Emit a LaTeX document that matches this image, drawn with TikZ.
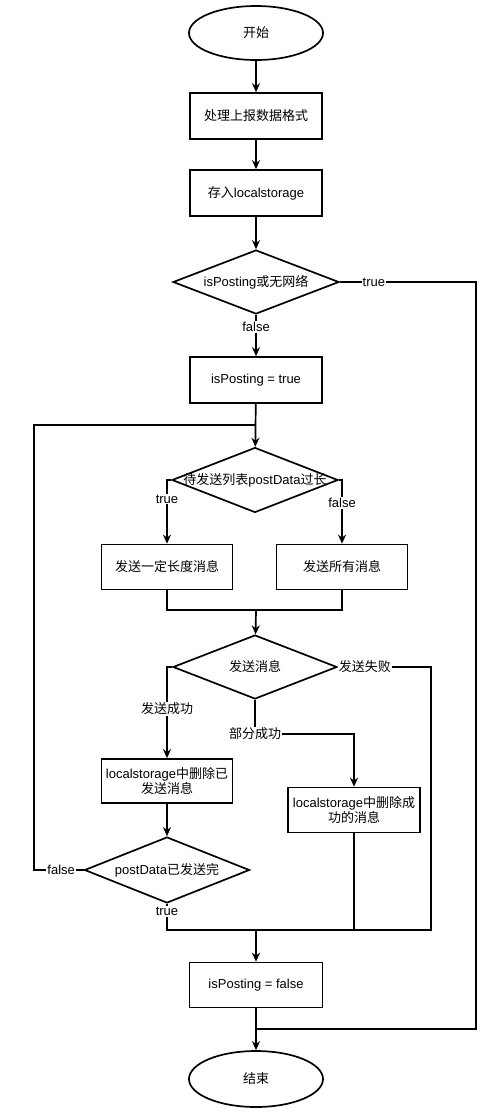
\documentclass[tikz,border=0pt]{standalone}
\usepackage{fontspec}
\setmainfont{Liberation Sans}
\newfontfamily\cjk{Noto Sans CJK SC}
\usetikzlibrary{shapes.geometric,arrows.meta}
\begin{document}
\begin{tikzpicture}[x=1pt,y=-1pt, font=\fontsize{13}{15}\selectfont, line width=1.7pt,
  box/.style={draw, rectangle, minimum width=132pt, minimum height=46pt, inner sep=1pt, align=center},
  term/.style={draw, ellipse, minimum width=134pt, minimum height=54pt},
  dia/.style={draw, diamond, inner sep=0pt},
  lbl/.style={fill=white, inner sep=1pt},
  arr/.style={-{Stealth[length=9pt,width=8pt]}}]
\useasboundingbox (0,0) rectangle (494,1112);
\fill[white] (0,0) rectangle (494,1112);

\node[term] (start) at (256,33) {\cjk 开始};
\node[box] (b1) at (256,116) {\cjk 处理上报数据格式};
\node[box] (b2) at (256,193) {{\cjk 存入}localstorage};
\node[dia, minimum width=166pt, minimum height=64pt] (d1) at (256,282) {};
\node (t1) at (d1) {isPosting{\cjk 或无网络}};
\node[box] (b3) at (256,380) {isPosting = true};
\node[dia, minimum width=166pt, minimum height=65pt] (d2) at (255,480) {};
\node (t2) at (d2) {{\cjk 待发送列表}postData{\cjk 过长}};
\node[box, minimum width=131pt, minimum height=45pt] (b4) at (167,567) {\cjk 发送一定长度消息};
\node[box, minimum width=131pt, minimum height=45pt] (b5) at (342,567) {\cjk 发送所有消息};
\node[dia, minimum width=164pt, minimum height=64pt] (d3) at (255,667) {};
\node (t3) at (d3) {\cjk 发送消息};
\node[box, minimum width=131pt, minimum height=44pt] (b6) at (167,781) {localstorage{\cjk 中删除已}\\{\cjk 发送消息}};
\node[box, minimum width=132pt, minimum height=45pt] (b7) at (354,810) {localstorage{\cjk 中删除成}\\{\cjk 功的消息}};
\node[dia, minimum width=165pt, minimum height=66pt] (d4) at (167,870) {};
\node (t4) at (d4) {postData{\cjk 已发送完}};
\node[box, minimum width=133pt, minimum height=45pt] (b8) at (256,985) {isPosting = false};
\node[term, minimum width=134pt, minimum height=56pt] (end) at (256,1079) {\cjk 结束};

\coordinate (jEnd) at (256,1029);
\coordinate (jLoop) at (256,425);
\coordinate (jA) at (256,610);
\coordinate (jB) at (256,930);

\draw[arr] (start) -- (b1);
\draw[arr] (b1) -- (b2);
\draw[arr] (b2) -- (d1);
\draw[arr] (d1) -- node[lbl, pos=0.3] {false} (b3);
\draw (d1.east) -- node[lbl, pos=0.25] {true} ++(136,0) |- (jEnd);
\draw[arr] (b3) -- (d2);
\draw (d4.west) -- node[lbl, pos=0.45] {false} ++(-50,0) |- (jLoop);
\draw[arr] (d2.west) -| node[lbl, pos=0.65] {true} (b4.north);
\draw[arr] (d2.east) -| node[lbl, pos=0.68] {false} (b5.north);
\draw (b4.south) |- (jA);
\draw (b5.south) |- (jA);
\draw[arr] (jA) -- (d3);
\draw (d3.east) -- node[lbl, pos=0.29] {\cjk 发送失败} ++(93,0) |- (jB);
\draw[arr] (d3.west) -| node[lbl, pos=0.73] {\cjk 发送成功} (b6.north);
\draw[arr] (d3.south) -- ++(0,34) coordinate (pc) -| (b7.north);
\node[lbl] (t5) at (pc) {\cjk 部分成功};
\draw[arr] (b6) -- (d4);
\draw (d4.south) -- node[lbl, pos=0.3] {true} (d4.south |- jB) -- (jB);
\draw (b7.south) -- (b7.south |- jB);
\draw[arr] (jB) -- (b8);
\draw[arr] (b8) -- (end);
\end{tikzpicture}
\end{document}
